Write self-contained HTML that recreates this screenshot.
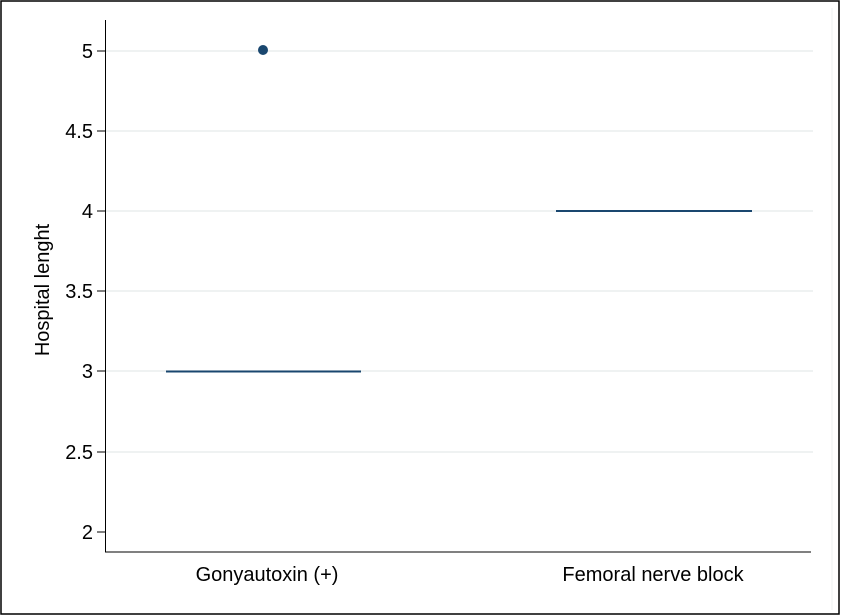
<!DOCTYPE html>
<html><head><style>
body{margin:0;background:#fff;}
svg{display:block;font-family:"Liberation Sans",sans-serif;}
</style></head><body>
<svg width="841" height="616" xmlns="http://www.w3.org/2000/svg">
<rect x="0" y="0" width="841" height="616" fill="#fff"/>
<rect x="1" y="1" width="838" height="613" fill="none" stroke="#000" stroke-width="1.5"/>
<line x1="832" y1="8" x2="832" y2="610" stroke="#eef0f0" stroke-width="1"/>
<g stroke="#eaeded" stroke-width="1.5">
<line x1="106" y1="51" x2="813" y2="51"/>
<line x1="106" y1="131" x2="813" y2="131"/>
<line x1="106" y1="211" x2="813" y2="211"/>
<line x1="106" y1="291" x2="813" y2="291"/>
<line x1="106" y1="371" x2="813" y2="371"/>
<line x1="106" y1="452" x2="813" y2="452"/>
</g>
<line x1="105.5" y1="20" x2="105.5" y2="552" stroke="#000" stroke-width="1"/>
<line x1="105" y1="552" x2="811" y2="552" stroke="#000" stroke-width="1"/>
<g stroke="#000" stroke-width="1">
<line x1="97" y1="51" x2="105" y2="51"/>
<line x1="97" y1="131" x2="105" y2="131"/>
<line x1="97" y1="211" x2="105" y2="211"/>
<line x1="97" y1="291" x2="105" y2="291"/>
<line x1="97" y1="371" x2="105" y2="371"/>
<line x1="97" y1="452" x2="105" y2="452"/>
<line x1="97" y1="532" x2="105" y2="532"/>
</g>
<g font-size="20" text-anchor="end" fill="#000">
<text x="93" y="58">5</text>
<text x="93" y="138">4.5</text>
<text x="93" y="218">4</text>
<text x="93" y="298">3.5</text>
<text x="93" y="378">3</text>
<text x="93" y="459">2.5</text>
<text x="93" y="539">2</text>
</g>
<text transform="translate(49,290) rotate(-90)" font-size="20" text-anchor="middle">Hospital lenght</text>
<text x="267" y="581" font-size="20" text-anchor="middle">Gonyautoxin (+)</text>
<text x="653" y="581" font-size="20" text-anchor="middle">Femoral nerve block</text>
<line x1="166" y1="371.5" x2="361" y2="371.5" stroke="#1a476f" stroke-width="2"/>
<line x1="556" y1="211" x2="752" y2="211" stroke="#1a476f" stroke-width="2"/>
<circle cx="263" cy="50" r="5" fill="#1a476f"/>
</svg>
</body></html>
